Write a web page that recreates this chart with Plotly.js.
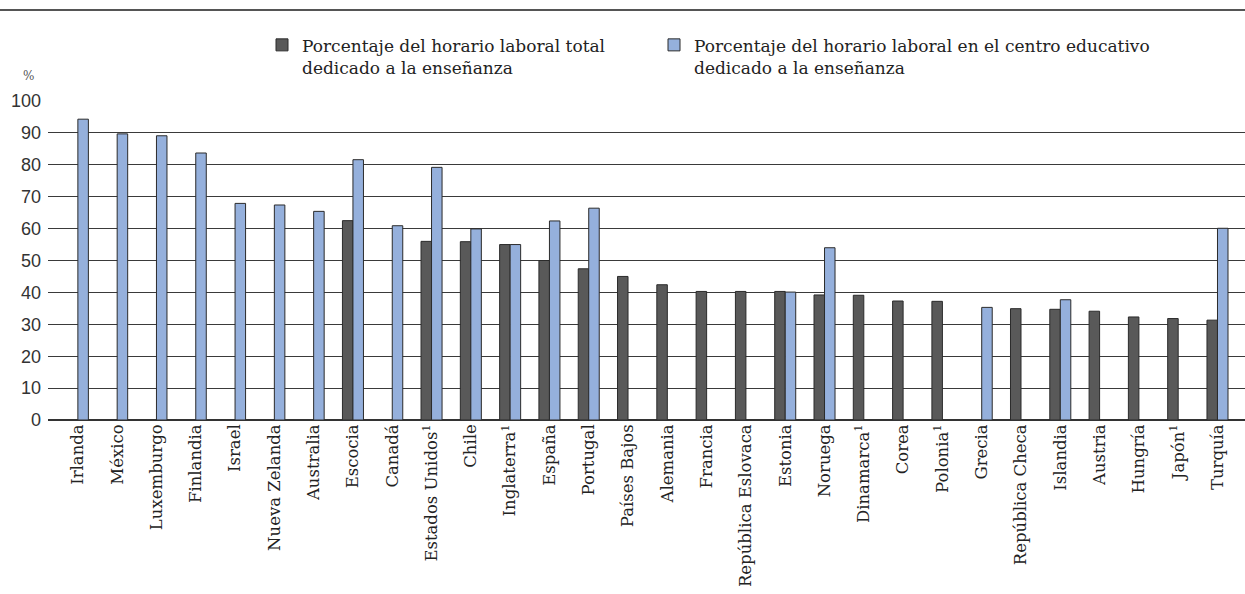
<!DOCTYPE html>
<html>
<head>
<meta charset="utf-8">
<script src="https://cdn.plot.ly/plotly-3.0.1.min.js"></script>
<style>html,body{margin:0;padding:0;background:#fff;}#chart{width:1245px;height:594px;}</style>
</head>
<body>
<div id="chart"></div>
<script>
const countries = ["Irlanda","México","Luxemburgo","Finlandia","Israel","Nueva Zelanda","Australia","Escocia","Canadá","Estados Unidos<sup>1</sup>","Chile","Inglaterra<sup>1</sup>","España","Portugal","Países Bajos","Alemania","Francia","República Eslovaca","Estonia","Noruega","Dinamarca<sup>1</sup>","Corea","Polonia<sup>1</sup>","Grecia","República Checa","Islandia","Austria","Hungría","Japón<sup>1</sup>","Turquía"];
const totalPct = [null,null,null,null,null,null,null,62.5,null,56.0,55.9,55.0,50.0,47.4,45.0,42.4,40.3,40.3,40.3,39.2,39.1,37.3,37.2,null,34.9,34.7,34.1,32.3,31.8,31.3];
const schoolPct = [94.3,89.7,89.1,83.7,67.9,67.4,65.4,81.6,60.9,79.2,59.9,55.0,62.4,66.4,null,null,null,null,40.1,54.0,null,null,null,35.3,null,37.7,null,null,null,60.1];
const seriesNames = ["Porcentaje del horario laboral total<br>dedicado a la enseñanza","Porcentaje del horario laboral en el centro educativo<br>dedicado a la enseñanza"];
const yTicks = [0,10,20,30,40,50,60,70,80,90,100];

const traces = [
  {type:'bar', name:seriesNames[0], x:countries, y:totalPct, legend:'legend',
   marker:{color:'#595959', line:{color:'#2b2b2b', width:1}}},
  {type:'bar', name:seriesNames[1], x:countries, y:schoolPct, legend:'legend2',
   marker:{color:'#95B0DC', line:{color:'#2b2b2b', width:1}}}
];
const legFont = {family:'DejaVu Serif', size:17, color:'#222'};
const layout = {
  width:1245, height:594,
  margin:{l:48, r:0, t:101, b:174},
  paper_bgcolor:'#fff', plot_bgcolor:'#fff',
  barmode:'group', bargap:0.465, bargroupgap:0,
  showlegend:true,
  legend:{orientation:'h', x:(262-48)/1197, xanchor:'left', y:1.231, yanchor:'top', valign:'top',
    font:legFont, bgcolor:'rgba(0,0,0,0)'},
  legend2:{orientation:'h', x:(654-48)/1197, xanchor:'left', y:1.231, yanchor:'top', valign:'top',
    font:legFont, bgcolor:'rgba(0,0,0,0)'},
  xaxis:{type:'category', range:[-0.76, 29.7], tickangle:-90, ticks:'', showgrid:false, showline:false, zeroline:false,
    tickfont:{family:'DejaVu Serif', size:16.5, color:'#222'}, automargin:false},
  yaxis:{range:[0,100], tickvals:yTicks, ticks:'', showgrid:true, gridcolor:'#3a3a3a', gridwidth:1,
    zeroline:true, zerolinecolor:'#333', zerolinewidth:1.5, showline:false,
    tickfont:{family:'Liberation Sans', size:18, color:'#333'}, ticklabelstandoff:6, automargin:false},
  shapes:[{type:'line', xref:'paper', yref:'paper', x0:-0.05, x1:1, y0:1+(101-10)/319, y1:1+(101-10)/319,
    line:{color:'#555', width:2}}],
  annotations:[{text:'%', xref:'paper', yref:'paper', x:(28-48)/1197, y:1+(101-76)/319, xanchor:'center', yanchor:'middle',
    showarrow:false, font:{family:'DejaVu Serif', size:12, color:'#555'}}]
};
Plotly.newPlot('chart', traces, layout, {displayModeBar:false, staticPlot:true});
</script>
</body>
</html>
